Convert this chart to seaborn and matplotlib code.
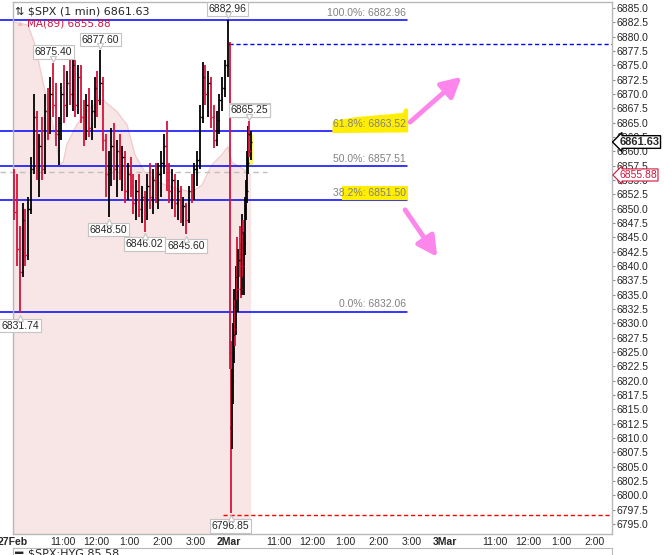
import numpy as np
import pandas as pd
import matplotlib
matplotlib.use("Agg")
import matplotlib.pyplot as plt
import matplotlib.transforms as mtransforms
from matplotlib.patches import Rectangle, Polygon
import seaborn as sns

# ---- Barras OHLC (27Feb en barras de 5 min, 2Mar en barras de 2 min) ----
feb27_open = [6855.0, 6849.5, 6843.0, 6839.0, 6848.0, 6842.0, 6850.0, 6857.0, 6866.0, 6858.0,
              6861.0, 6857.0, 6867.0, 6864.0, 6870.0, 6868.0, 6863.0, 6865.0, 6870.0, 6868.0,
              6872.0, 6870.0, 6875.0, 6868.0, 6873.0, 6866.0, 6863.0, 6868.0, 6864.0, 6867.0,
              6871.0, 6869.0, 6872.0, 6862.0, 6856.0, 6857.0, 6861.0, 6857.0, 6860.0, 6856.0,
              6859.0, 6853.0, 6856.0, 6854.0, 6851.0, 6853.0, 6850.0, 6852.0, 6849.0, 6854.0,
              6852.0, 6855.0, 6853.0, 6856.0, 6858.0, 6861.0, 6855.0, 6853.0, 6855.0, 6851.0,
              6853.0, 6849.0, 6850.5, 6848.0, 6853.0, 6852.0, 6857.0, 6858.5, 6866.0, 6873.0,
              6870.0, 6872.0, 6866.0, 6862.0, 6865.5, 6869.0, 6871.0, 6875.0]
feb27_high = [6857.0, 6856.0, 6847.0, 6851.0, 6850.0, 6852.0, 6859.0, 6870.0, 6867.0, 6863.0,
              6866.0, 6870.0, 6871.0, 6873.0, 6875.4, 6872.0, 6866.0, 6872.0, 6875.0, 6874.0,
              6876.5, 6877.0, 6876.0, 6875.0, 6875.0, 6869.0, 6870.0, 6871.0, 6869.0, 6873.0,
              6874.0, 6877.6, 6873.0, 6863.0, 6860.0, 6864.0, 6865.0, 6862.0, 6863.0, 6861.0,
              6860.0, 6858.0, 6859.0, 6856.0, 6855.0, 6856.0, 6854.0, 6853.0, 6856.0, 6858.0,
              6857.0, 6858.0, 6858.0, 6860.0, 6863.0, 6865.28, 6858.0, 6857.0, 6856.0, 6855.0,
              6854.0, 6852.0, 6851.0, 6854.0, 6856.0, 6858.0, 6860.0, 6868.0, 6875.5, 6875.0,
              6874.0, 6873.0, 6868.0, 6867.0, 6870.0, 6873.0, 6876.0, 6882.96]
feb27_low = [6848.0, 6840.0, 6831.74, 6838.0, 6840.0, 6841.0, 6849.0, 6856.0, 6855.0, 6852.0,
             6855.0, 6856.0, 6862.0, 6863.0, 6866.0, 6861.0, 6857.6, 6862.0, 6865.0, 6866.0,
             6868.0, 6867.0, 6866.0, 6866.5, 6865.0, 6861.0, 6862.0, 6862.5, 6862.0, 6864.0,
             6866.0, 6868.0, 6860.0, 6852.0, 6848.5, 6854.0, 6855.0, 6852.0, 6855.0, 6853.0,
             6851.0, 6851.5, 6852.0, 6849.0, 6848.0, 6848.5, 6847.5, 6846.02, 6848.0, 6850.0,
             6849.0, 6851.0, 6850.0, 6852.0, 6856.0, 6853.0, 6851.0, 6850.0, 6848.5, 6848.0,
             6847.5, 6847.0, 6845.6, 6847.5, 6851.0, 6851.5, 6854.0, 6857.0, 6865.0, 6868.0,
             6866.0, 6864.0, 6860.5, 6861.0, 6863.0, 6867.0, 6869.5, 6873.0]
feb27_close = [6849.5, 6843.0, 6839.0, 6848.0, 6842.0, 6850.0, 6857.0, 6866.0, 6858.0, 6861.0,
               6857.0, 6867.0, 6864.0, 6870.0, 6868.0, 6863.0, 6865.0, 6870.0, 6868.0, 6872.0,
               6870.0, 6875.0, 6868.0, 6873.0, 6866.0, 6863.0, 6868.0, 6864.0, 6867.0, 6871.0,
               6869.0, 6872.0, 6862.0, 6856.0, 6857.0, 6861.0, 6857.0, 6860.0, 6856.0, 6859.0,
               6853.0, 6856.0, 6854.0, 6851.0, 6853.0, 6850.0, 6852.0, 6849.0, 6854.0, 6852.0,
               6855.0, 6853.0, 6856.0, 6858.0, 6861.0, 6855.0, 6853.0, 6855.0, 6851.0, 6853.0,
               6849.0, 6850.5, 6848.0, 6853.0, 6852.0, 6857.0, 6858.5, 6866.0, 6873.0, 6870.0,
               6872.0, 6866.0, 6862.0, 6865.5, 6869.0, 6871.0, 6875.0, 6878.7]

mar2_open = [6878.7, 6825.0, 6812.0, 6820.0, 6828.0, 6833.0, 6829.0, 6838.0, 6836.0, 6841.0,
             6840.0, 6836.0, 6846.0, 6840.0, 6844.0, 6850.0, 6853.0, 6858.0, 6863.0, 6860.0]
mar2_high = [6879.0, 6827.0, 6822.0, 6830.0, 6836.0, 6834.0, 6840.0, 6845.0, 6843.0, 6847.0,
             6844.0, 6849.0, 6848.0, 6846.0, 6852.0, 6855.0, 6860.0, 6864.5, 6865.25, 6863.5]
mar2_low = [6822.0, 6796.85, 6808.0, 6816.0, 6823.0, 6826.0, 6828.0, 6834.0, 6832.0, 6838.0,
            6834.5, 6835.0, 6838.0, 6835.0, 6842.0, 6848.0, 6851.0, 6856.0, 6859.0, 6858.5]
mar2_close = [6825.0, 6812.0, 6820.0, 6828.0, 6833.0, 6829.0, 6838.0, 6836.0, 6841.0, 6840.0,
              6836.0, 6846.0, 6840.0, 6844.0, 6850.0, 6853.0, 6858.0, 6863.0, 6860.0, 6861.63]

ma_time = ['2026-02-27 09:30', '2026-02-27 09:57', '2026-02-27 10:10', '2026-02-27 10:24',
           '2026-02-27 10:42', '2026-02-27 10:55', '2026-02-27 11:01', '2026-02-27 11:07',
           '2026-02-27 11:25', '2026-02-27 11:49', '2026-02-27 12:12', '2026-02-27 12:38',
           '2026-02-27 12:56', '2026-02-27 13:10', '2026-02-27 13:28', '2026-02-27 13:52',
           '2026-02-27 14:22', '2026-02-27 14:53', '2026-02-27 15:11', '2026-02-27 15:29',
           '2026-02-27 15:47', '2026-02-27 15:58', '2026-03-02 09:35', '2026-03-02 09:59',
           '2026-03-02 10:09']
ma_value = [6882.6, 6882.0, 6878.5, 6872.1, 6864.6, 6857.6, 6858.2, 6861.1,
            6864.6, 6867.6, 6869.0, 6866.9, 6864.6, 6859.4, 6856.4, 6854.6,
            6853.6, 6852.9, 6854.1, 6857.6, 6859.4, 6860.8, 6858.1, 6856.7,
            6855.88]

# Retroceso de Fibonacci
fib_pct = ['100.0%', '61.8%', '50.0%', '38.2%', '0.0%']
fib_val = [6882.96, 6863.52, 6857.51, 6851.50, 6832.06]

# Maximos y minimos etiquetados
peak_values = [6875.40, 6877.60, 6865.28, 6882.96, 6865.25]
trough_values = [6831.74, 6848.50, 6846.02, 6845.60, 6796.85]

last_price = 6861.63
ma_last = 6855.88
prev_close = 6878.7
day_low_line = 6796.5
gray_ref = 6856.4

days = pd.to_datetime(['2026-02-27', '2026-03-02', '2026-03-03'])
day_names = ['27Feb', '2Mar', '3Mar']
hour_names = ['11:00', '12:00', '1:00', '2:00', '3:00']
hour_times = ['11:00', '12:00', '13:00', '14:00', '15:00']


def sesion(ts):
    # minutos de sesion (9:30-16:00) contados desde la apertura del 27Feb
    ts = pd.DatetimeIndex(pd.to_datetime(ts))
    d = days.get_indexer(ts.normalize())
    mins = (ts - ts.normalize()).total_seconds() / 60 - 570
    return np.asarray(d * 390 + mins, dtype=float)


t27 = pd.date_range('2026-02-27 09:30', periods=len(feb27_open), freq='5min')
t2 = pd.date_range('2026-03-02 09:30', periods=len(mar2_open), freq='2min')

bars = pd.DataFrame({
    'x': np.concatenate([sesion(t27) + 2.5, sesion(t2) + 1.0]),
    'open': feb27_open + mar2_open,
    'high': feb27_high + mar2_high,
    'low': feb27_low + mar2_low,
    'close': feb27_close + mar2_close,
})
ma = pd.DataFrame({'x': sesion(ma_time), 'ma': ma_value})

RED = '#d4143c'
BLUE = '#0000ff'
PINK = '#fd86ec'

sns.set_style("white")
plt.rcParams['font.family'] = ['Liberation Sans', 'DejaVu Sans']

fig = plt.figure(figsize=(6.64, 5.55), dpi=100)
ax = fig.add_axes([13 / 664, 21 / 555, 599 / 664, 532 / 555])
x0, x1 = 0, 1081.6
y0, y1 = 6793.26, 6886.05
ax.set_xlim(x0, x1)
ax.set_ylim(y0, y1)
px_x = 599 / (x1 - x0)   # pixeles por minuto
px_y = 532 / (y1 - y0)   # pixeles por punto

# area de la media movil
ax.fill_between(ma['x'], ma['ma'], y0, color='#f8e5e5', lw=0, zorder=1)
sns.lineplot(data=ma, x='x', y='ma', ax=ax, color='#f2cdd0', lw=1, zorder=1.2)

# lineas de referencia
ax.plot([-13 / px_x, 458], [gray_ref, gray_ref], ls=(0, (4, 3)), color='#c0c0c0', lw=1,
        clip_on=False, zorder=1.5)
ax.plot([390, x1], [prev_close, prev_close], ls=(0, (3, 2)), color=BLUE, lw=1, zorder=1.5)
ax.plot([380, x1], [day_low_line, day_low_line], ls=(0, (3, 2)), color='#ff0000', lw=1,
        zorder=1.5)

# fibonacci
fib_end = (407 - 13) / px_x
for p, v in zip(fib_pct, fib_val):
    ax.plot([-13 / px_x, fib_end], [v, v], color=BLUE, lw=1.1, clip_on=False, zorder=2)

# resaltados amarillos a mano
hl1 = Polygon([(fib_end - 135, 6863.2), (fib_end - 134, 6865.3), (fib_end - 90, 6866.0),
               (fib_end - 40, 6866.4), (fib_end - 8, 6866.7), (fib_end - 4, 6867.5),
               (fib_end + 2, 6867.4), (fib_end + 2, 6863.3)],
              closed=True, fc='#ffee00', ec='none', zorder=2.1)
ax.add_patch(hl1)
ax.add_patch(Rectangle((fib_end - 117, 6851.6), 119, 2.3, fc='#ffee00', ec='none', zorder=2.1))

for p, v in zip(fib_pct, fib_val):
    ax.annotate(f'{p}: {v:.2f}', xy=(fib_end - 2, v), xytext=(0, 1.5),
                textcoords='offset points', ha='right', va='bottom', fontsize=7.5,
                color='#808080', zorder=3)

# barras OHLC
colors = np.where(bars['close'] >= bars['open'], 'black', RED)
tick = 1.4 / px_x
ax.vlines(bars['x'], bars['low'], bars['high'], colors=colors, lw=1.3, zorder=4)
ax.hlines(bars['open'], bars['x'] - tick, bars['x'], colors=colors, lw=1.0, zorder=4)
ax.hlines(bars['close'], bars['x'], bars['x'] + tick, colors=colors, lw=1.0, zorder=4)

# ultima barra resaltada
last_x = bars['x'].iloc[-1]
ax.add_patch(Rectangle((last_x - 2.5 / px_x, 6857.6), 5 / px_x, 5.2, fc='#fff04a',
                       ec='none', alpha=0.85, zorder=3.5))

# etiquetas de maximos y minimos, con su piquito
box = dict(boxstyle='square,pad=0.18', fc='white', ec='#c4c4c4', lw=0.8)
up = mtransforms.offset_copy(ax.transData, fig=fig, x=0, y=3.2, units='points')
down = mtransforms.offset_copy(ax.transData, fig=fig, x=0, y=-3.4, units='points')
for v in peak_values:
    xv = bars.loc[np.isclose(bars['high'], v), 'x'].iloc[-1]
    ax.annotate(f'{v:.2f}', xy=(xv, v), xytext=(0, 7.8), textcoords='offset points',
                ha='center', va='center', fontsize=7.5, bbox=box, zorder=6)
    ax.plot([xv], [v], marker='v', ms=4.5, mfc='white', mec='#c4c4c4', mew=0.8,
            transform=up, zorder=6.5, clip_on=False)
for v in trough_values:
    xv = bars.loc[np.isclose(bars['low'], v), 'x'].iloc[0]
    ax.annotate(f'{v:.2f}', xy=(xv, v), xytext=(0, -8.8), textcoords='offset points',
                ha='center', va='center', fontsize=7.5, bbox=box, zorder=6)
    ax.plot([xv], [v], marker='^', ms=4.5, mfc='white', mec='#c4c4c4', mew=0.8,
            transform=down, zorder=6.5, clip_on=False)

# flechas rosas
arrow = dict(arrowstyle='-|>,head_length=0.85,head_width=0.45', color=PINK, lw=3.5,
             mutation_scale=14, shrinkA=0, shrinkB=0)
ax.annotate('', xy=(810, 6873.0), xytext=(717, 6865.1), arrowprops=arrow, zorder=7)
ax.annotate('', xy=(766, 6841.6), xytext=(708, 6849.8), arrowprops=arrow, zorder=7)

# eje y a la derecha
ax.yaxis.tick_right()
ax.set_yticks(np.arange(6795, 6885.1, 2.5))
ax.set_yticklabels([f'{t:.1f}' for t in np.arange(6795, 6885.1, 2.5)])
ax.tick_params(axis='y', direction='out', length=2.5, width=0.8, color='#909090', pad=0.5,
               labelsize=7.5)

# eje x con dias y horas
xt, xl = [], []
for d, name in zip(days, day_names):
    xt.append(sesion([d + pd.Timedelta(hours=9, minutes=30)])[0])
    xl.append(name)
    for h, hn in zip(hour_times, hour_names):
        xt.append(sesion([f'{d.date()} {h}'])[0])
        xl.append(hn)
keep = [i for i, t in enumerate(xt) if t <= x1]
ax.set_xticks([xt[i] for i in keep])
ax.set_xticklabels([xl[i] for i in keep])
for lab in ax.get_xticklabels():
    if lab.get_text() in day_names:
        lab.set_fontweight('bold')
        lab.set_fontsize(8)
ax.tick_params(axis='x', length=0, pad=2.5, labelsize=7.5)
ax.set_xlabel('')
ax.set_ylabel('')

for s in ax.spines.values():
    s.set_color('#b8b8b8')
    s.set_linewidth(1)

# etiquetas de precio en el eje
tr = mtransforms.blended_transform_factory(ax.transAxes, ax.transData)
ax.text(1.012, last_price, f'{last_price:.2f}', transform=tr, ha='left', va='center',
        fontsize=8, fontweight='bold', zorder=8,
        bbox=dict(boxstyle='larrow,pad=0.12', fc='white', ec='black', lw=1))
ax.text(1.012, ma_last, f'{ma_last:.2f}', transform=tr, ha='left', va='center',
        fontsize=7.5, color=RED, zorder=8,
        bbox=dict(boxstyle='larrow,pad=0.1', fc='white', ec=RED, lw=0.8))

# leyenda superior
ax.text(2 / 599, 1 - 5 / 532, '\u21c5 $SPX (1 min) 6861.63', transform=ax.transAxes,
        ha='left', va='top', fontsize=8, family=['DejaVu Sans'], zorder=8)
ax.text(2 / 599, 1 - 19 / 532, '\u25b2', transform=ax.transAxes, ha='left', va='top',
        fontsize=6, color='#f4b8c4', zorder=8)
ax.text(14 / 599, 1 - 17 / 532, 'MA(89) 6855.88', transform=ax.transAxes, ha='left',
        va='top', fontsize=7.5, color=RED, family=['DejaVu Sans'], zorder=8)

# panel inferior cortado
ax2 = fig.add_axes([13 / 664, -0.05, 599 / 664, 0.05 + 7 / 555])
ax2.set_xticks([])
ax2.set_yticks([])
for s in ax2.spines.values():
    s.set_color('#b8b8b8')
fig.text(15 / 664, 6 / 555, '\u25ac', fontsize=6, va='top')
fig.text(28 / 664, 7 / 555, '$SPX:HYG 85.58', fontsize=8, va='top', family=['DejaVu Sans'])

fig.savefig('out.png', dpi=100)
